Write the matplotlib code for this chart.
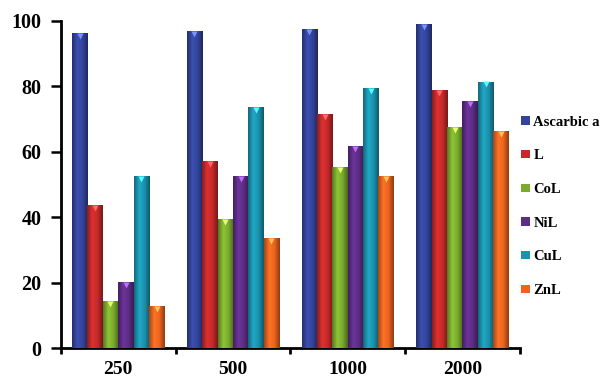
import numpy as np
import matplotlib.pyplot as plt
from matplotlib.colors import LinearSegmentedColormap, to_rgb

# data
doses = ["250", "500", "1000", "2000"]
series = ["Ascarbic a", "L", "CoL", "NiL", "CuL", "ZnL"]
asc = [96.2, 97.0, 97.5, 99.0]
lig = [43.8, 57.2, 71.5, 79.0]
col = [14.4, 39.5, 55.5, 67.5]
nil = [20.2, 52.5, 61.8, 75.6]
cul = [52.6, 73.6, 79.4, 81.5]
znl = [12.9, 33.7, 52.5, 66.4]
values = [asc, lig, col, nil, cul, znl]
colors = ["#34449a", "#c32a2a", "#7aab2f", "#5e2d86", "#1b92ad", "#ea6420"]

plt.rcParams['font.family'] = ['Liberation Serif', 'DejaVu Serif']
plt.rcParams['font.weight'] = 'bold'

fig = plt.figure(figsize=(6.08, 3.81), dpi=100)
ax = fig.add_axes([0.100, 0.086, 0.755, 0.859])

x = np.arange(len(doses))
w = 0.134
grad = np.linspace(0, 1, 64).reshape(1, -1)

handles = []
for i, (name, vals, c) in enumerate(zip(series, values, colors)):
    pos = x - 2.5 * w + i * w
    bars = ax.bar(pos, vals, width=w, color=c, edgecolor="none", label=name, zorder=2)
    rgb = np.array(to_rgb(c))
    cmap = LinearSegmentedColormap.from_list(
        name, [rgb * 0.7, np.minimum(rgb * 1.15, 1), rgb, rgb * 0.6])
    for b in bars:
        x0, y0 = b.get_x(), b.get_y()
        x1, y1 = x0 + b.get_width(), y0 + b.get_height()
        im = ax.imshow(grad, extent=[x0, x1, y0, y1], cmap=cmap, aspect="auto", zorder=3)
        im.set_clip_path(b)
        ax.plot(b.get_x() + b.get_width() / 2, y1 - 0.9, marker="v", ms=5,
                color=np.minimum(rgb * 1.6 + 0.15, 1), mec="none", zorder=4)
    handles.append(bars)

ax.set_xlim(-0.5, 3.5)
ax.set_ylim(0, 100)
ax.set_yticks(np.arange(0, 101, 20))
ax.set_xticks(np.arange(-0.5, 3.6, 1))
ax.set_xticklabels([])
ax.set_xticks(x, minor=True)
ax.set_xticklabels(doses, minor=True)
ax.tick_params(axis="x", which="minor", length=0, pad=9, labelsize=14)
ax.tick_params(axis="x", which="major", direction="out", length=4, width=2)
ax.tick_params(axis="y", direction="out", length=7, width=1.8, labelsize=14.5, pad=7)
for s in ["top", "right"]:
    ax.spines[s].set_visible(False)
for s in ["left", "bottom"]:
    ax.spines[s].set_linewidth(2)

fig.legend(handles=handles, labels=series, loc="upper left",
           bbox_to_anchor=(0.848, 0.712), frameon=False, fontsize=10.5,
           handlelength=0.62, handleheight=0.5, handletextpad=0.2,
           labelspacing=1.42, borderaxespad=0)

fig.savefig("out.png", dpi=100)
